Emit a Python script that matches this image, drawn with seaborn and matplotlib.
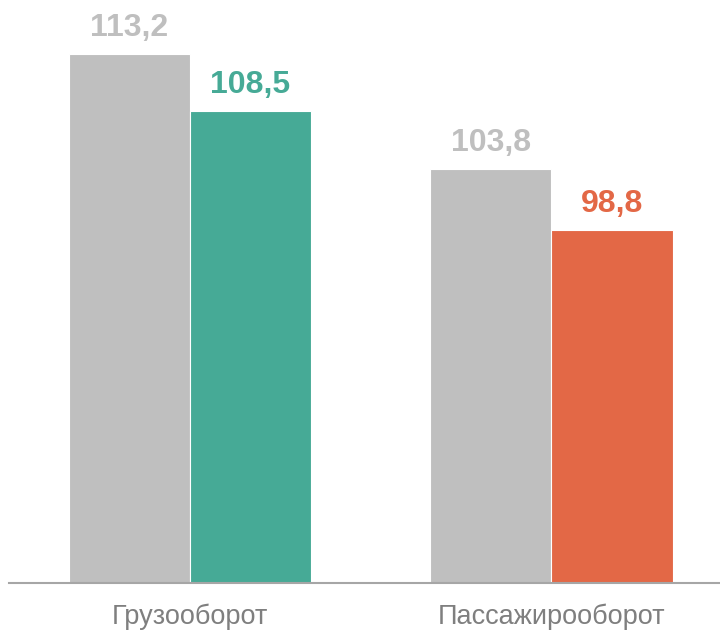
import matplotlib
matplotlib.use("Agg")
import matplotlib.pyplot as plt
import pandas as pd
import seaborn as sns

categories = ["Грузооборот", "Пассажирооборот"]
prev_values = [113.2, 103.8]
curr_values = [108.5, 98.8]
series = ["prev", "curr"]

grey = "#bfbfbf"
curr_colors = ["#46aa96", "#e36846"]

df = pd.DataFrame({
    "category": categories * 2,
    "series": [series[0]] * 2 + [series[1]] * 2,
    "value": prev_values + curr_values,
})

sns.set_style("white")
plt.rcParams["font.family"] = ["Liberation Sans", "DejaVu Sans"]

fig = plt.figure(figsize=(7.2, 6.3), dpi=100)
ax = fig.add_axes([0.0125, 0.0746, 0.9875, 0.9254])

sns.barplot(data=df, x="category", y="value", hue="series", order=categories,
            hue_order=series, width=0.67, gap=0, legend=False, ax=ax,
            palette=[grey, grey], saturation=1, edgecolor="white", linewidth=0.8)

# color the current-year bars per group and add value labels
for i, container in enumerate(ax.containers):
    for j, bar in enumerate(container):
        if i == 1:
            bar.set_facecolor(curr_colors[j])
            col = curr_colors[j]
        else:
            col = grey
        val = bar.get_height()
        ax.annotate(f"{val:.1f}".replace(".", ","),
                    (bar.get_x() + bar.get_width() / 2, val),
                    xytext=(0, 8), textcoords="offset points",
                    ha="center", va="bottom", fontsize=23, fontweight="bold",
                    color=col)

ax.set_ylim(70, 117.6)
ax.set_xlim(-0.5, 1.466)
ax.set_xlabel("")
ax.set_ylabel("")
ax.set_yticks([])
for s in ["top", "right", "left"]:
    ax.spines[s].set_visible(False)
ax.spines["bottom"].set_color("#a6a6a6")
ax.spines["bottom"].set_linewidth(1.5)
ax.tick_params(axis="x", length=0, pad=15, labelsize=19.5, labelcolor="#7f7f7f")

fig.savefig("out.png", dpi=100)
